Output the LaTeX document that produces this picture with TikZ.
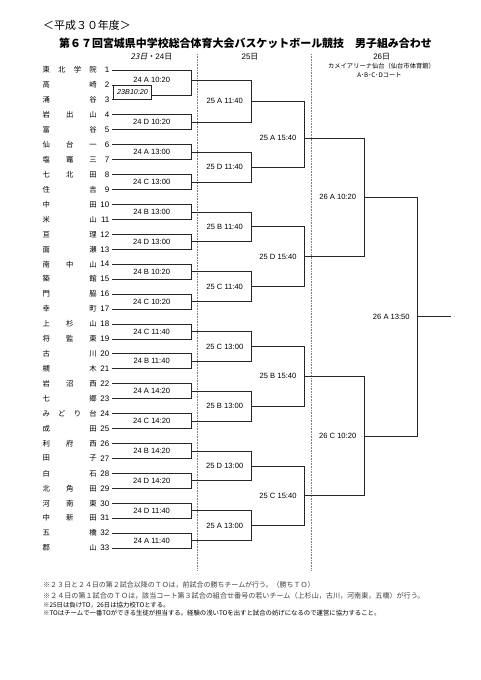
\documentclass[tikz,border=0pt]{standalone}
\usepackage{fontspec}
\setmainfont{Liberation Sans}
\newfontfamily\jp{Noto Sans CJK JP}
\newfontfamily\jpsl[FakeSlant=0.2]{Noto Sans CJK JP}
\usetikzlibrary{calc}
\begin{document}
\begin{tikzpicture}[x=1bp,y=-1bp,
  br/.style={line width=0.8bp,black!85},
  sepline/.style={line width=0.6bp,gray,densely dotted},
  lbl/.style={inner sep=0,font=\fontsize{7.6}{8}\selectfont},
  team/.style={anchor=west,inner sep=0,font=\jp\fontsize{7.4}{8}\selectfont},
  num/.style={anchor=east,inner sep=0,font=\fontsize{8}{9}\selectfont},
  hdr/.style={inner sep=0,font=\fontsize{8}{9}\selectfont},
  note/.style={anchor=west,inner sep=0}]
\useasboundingbox[fill=white] (0,0) rectangle (481,680);

% header
\node[note,font=\jp\fontsize{11}{12}\selectfont] (year) at (43,25) {＜平成３０年度＞};
\node[anchor=west,inner sep=0,font=\jp\bfseries\fontsize{11}{12}\selectfont] (title) at (59,43.5) {第６７回宮城県中学校総合体育大会バスケットボール競技　男子組み合わせ};
\node[hdr] (d1) at (151.5,56.7) {{\jpsl\textit{23}日}{\jp ・}24{\jp 日}};
\node[hdr] (d2) at (250,56.7) {25{\jp 日}};
\node[hdr] (d3) at (381.7,56.7) {26{\jp 日}};
\node[inner sep=0,font=\jp\fontsize{6.3}{7}\selectfont] (venue) at (381.5,66) {カメイアリーナ仙台（仙台市体育館）};
\node[inner sep=0,font=\jp\fontsize{6.3}{7}\selectfont] (court) at (379.5,75) {A･B･C･Dコート};

% separators
\coordinate (p1) at (197.7,54); \coordinate (p2) at (197.7,570);
\coordinate (p3) at (311.3,54); \coordinate (p4) at (311.3,570);
\draw[sepline] (p1) -- (p2);
\draw[sepline] (p3) -- (p4);

% column x positions
\coordinate (X1) at (191.5,0);
\coordinate (X2) at (251,0);
\coordinate (X3) at (304.3,0);
\coordinate (X4) at (364.3,0);
\coordinate (X5) at (417.3,0);
\coordinate (XB) at (151.7,0);

% teams
\foreach \k/\nm in {1/{東\hfill 北\hfill 学\hfill 院},2/{高\hfill 崎},3/{涌\hfill 谷},4/{岩\hfill 出\hfill 山},5/{富\hfill 谷},
  6/{仙\hfill 台\hfill 一},7/{塩\hfill 竈\hfill 三},8/{七\hfill 北\hfill 田},9/{住\hfill 吉},10/{中\hfill 田},
  11/{米\hfill 山},12/{亘\hfill 理},13/{面\hfill 瀬},14/{南\hfill 中\hfill 山},15/{築\hfill 館},
  16/{門\hfill 脇},17/{幸\hfill 町},18/{上\hfill 杉\hfill 山},19/{将\hfill 監\hfill 東},20/{古\hfill 川},
  21/{槻\hfill 木},22/{岩\hfill 沼\hfill 西},23/{七\hfill 郷},24/{み\hfill ど\hfill り\hfill 台},25/{成\hfill 田},
  26/{利\hfill 府\hfill 西},27/{田\hfill 子},28/{白\hfill 石},29/{北\hfill 角\hfill 田},30/{河\hfill 南\hfill 東},
  31/{中\hfill 新\hfill 田},32/{五\hfill 橋},33/{郡\hfill 山}}{
  \pgfmathsetmacro{\yy}{70+14.94*(\k-1)}
  \node[team] (t\k) at (42.5,\yy) {\makebox[54bp][s]{\nm}};
  \node[num] (n\k) at (109.5,\yy) {\k};
  \coordinate (s\k) at (112,\yy);
}

% 23B preliminary
\draw[br] (s2) -- (s2 -| XB) -- (s3 -| XB) -- (s3);
\coordinate (bl2) at (113.5,0);
\draw[br] (s2 -| bl2) -- (s3 -| bl2);
\node[inner sep=0,font=\itshape\fontsize{7.2}{8}\selectfont] (L23) at ($(s2 -| XB)!0.5!(s3 -| bl2)$) {23B10:20};
\coordinate (q23) at (151.7,95);
\draw[br] (s1) -- (s1 -| X1) -- (q23 -| X1) -- (q23);
\coordinate (r1-1) at (191.5,80);
\node[lbl] (L1-1) at ($(r1-1)+(-39.8,0)$) {24 A 10:20};

% round 1 (24th)
\foreach \i/\lab in {2/{24 D 10:20},3/{24 A 13:00},4/{24 C 13:00},5/{24 B 13:00},6/{24 D 13:00},
  7/{24 B 10:20},8/{24 C 10:20},9/{24 C 11:40},10/{24 B 11:40},11/{24 A 14:20},12/{24 C 14:20},
  13/{24 B 14:20},14/{24 D 14:20},15/{24 D 11:40},16/{24 A 11:40}}{
  \pgfmathtruncatemacro{\ta}{2*\i}
  \pgfmathtruncatemacro{\tb}{2*\i+1}
  \draw[br] (s\ta) -- (s\ta -| X1) -- (s\tb -| X1) -- (s\tb);
  \coordinate (r1-\i) at ($(s\ta -| X1)!0.5!(s\tb -| X1)$);
  \node[lbl] (L1-\i) at ($(r1-\i)+(-39.8,0)$) {\lab};
}

% round 2 (25th)
\foreach \j/\lab in {1/{25 A 11:40},2/{25 D 11:40},3/{25 B 11:40},4/{25 C 11:40},
  5/{25 C 13:00},6/{25 B 13:00},7/{25 D 13:00},8/{25 A 13:00}}{
  \pgfmathtruncatemacro{\ta}{2*\j-1}
  \pgfmathtruncatemacro{\tb}{2*\j}
  \draw[br] (r1-\ta) -- (r1-\ta -| X2) -- (r1-\tb -| X2) -- (r1-\tb);
  \coordinate (r2-\j) at ($(r1-\ta -| X2)!0.5!(r1-\tb -| X2)$);
  \node[lbl] (L2-\j) at ($(r2-\j)+(-26.3,0)$) {\lab};
}

% round 3 (25th)
\draw[br] (r2-1) -- (r2-1 -| X3) -- (r2-2 -| X3) -- (r2-2);
\coordinate (r3-1) at (304.3,138);
\node[lbl] (L3-1) at ($(r3-1)+(-26.3,0)$) {25 A 15:40};
\draw[br] (r2-3) -- (r2-3 -| X3) -- (r2-4 -| X3) -- (r2-4);
\coordinate (r3-2) at ($(r2-3 -| X3)!0.5!(r2-4 -| X3)$);
\node[lbl] (L3-2) at ($(r3-2)+(-26.3,0)$) {25 D 15:40};
\draw[br] (r2-5) -- (r2-5 -| X3) -- (r2-6 -| X3) -- (r2-6);
\coordinate (r3-3) at ($(r2-5 -| X3)!0.5!(r2-6 -| X3)$);
\node[lbl] (L3-3) at ($(r3-3)+(-26.3,0)$) {25 B 15:40};
\draw[br] (r2-7) -- (r2-7 -| X3) -- (r2-8 -| X3) -- (r2-8);
\coordinate (r3-4) at ($(r2-7 -| X3)!0.5!(r2-8 -| X3)$);
\node[lbl] (L3-4) at ($(r3-4)+(-26.3,0)$) {25 C 15:40};

% round 4 (26th)
\draw[br] (r3-1) -- (r3-1 -| X4) -- (r3-2 -| X4) -- (r3-2);
\coordinate (r4-1) at ($(r3-1 -| X4)!0.5!(r3-2 -| X4)$);
\node[lbl] (L4-1) at ($(r4-1)+(-26.6,0)$) {26 A 10:20};
\draw[br] (r3-3) -- (r3-3 -| X4) -- (r3-4 -| X4) -- (r3-4);
\coordinate (r4-2) at ($(r3-3 -| X4)!0.5!(r3-4 -| X4)$);
\node[lbl] (L4-2) at ($(r4-2)+(-26.6,0)$) {26 C 10:20};

% final
\draw[br] (r4-1) -- (r4-1 -| X5) -- (r4-2 -| X5) -- (r4-2);
\coordinate (r5) at ($(r4-1 -| X5)!0.5!(r4-2 -| X5)$);
\node[lbl] (L5) at ($(r5)+(-26,0)$) {26 A 13:50};
\coordinate (champ) at (451,0);
\draw[br] (r5) -- (r5 -| champ);

% notes
\node[note,font=\jp\fontsize{7}{8}\selectfont,text=black!75] (f1) at (43,585) {※２３日と２４日の第２試合以降のＴＯは，前試合の勝ちチームが行う。（勝ちＴＯ）};
\node[note,font=\jp\fontsize{7.1}{8}\selectfont,text=black!75] (f2) at (43,595.7) {※２４日の第１試合のＴＯは，該当コート第３試合の組合せ番号の若いチーム（上杉山，古川，河南東，五橋）が行う。};
\node[note,font=\jp\fontsize{6.4}{7}\selectfont] (f3) at (43,605.6) {※25日は負けTO，26日は協力校TOとする。};
\node[note,font=\jp\fontsize{6.4}{7}\selectfont] (f4) at (43,613) {※TOはチームで一番TOができる生徒が担当する。経験の浅いTOを出すと試合の妨げになるので運営に協力すること。};
\end{tikzpicture}
\end{document}
